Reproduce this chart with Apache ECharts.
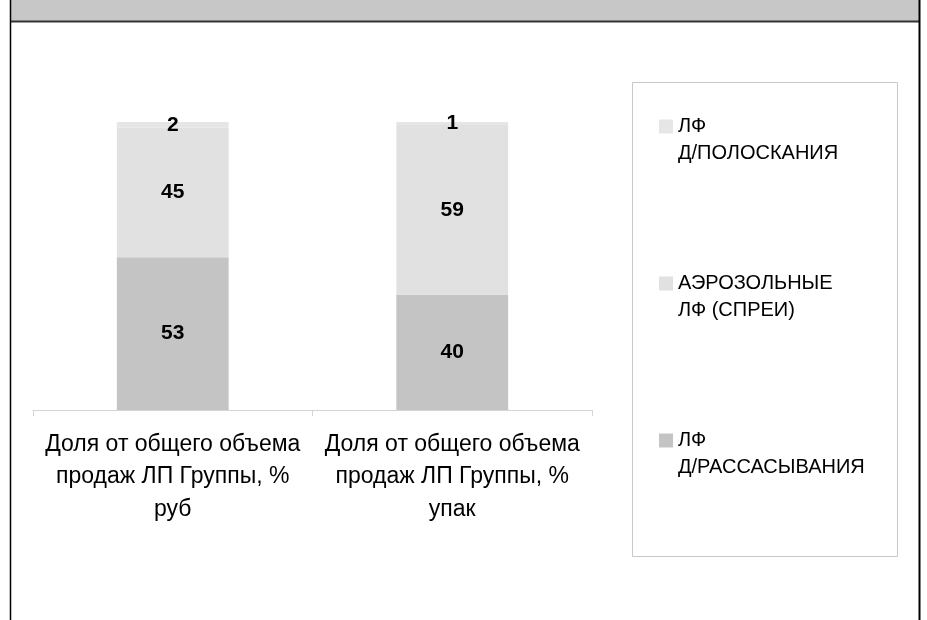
<!DOCTYPE html>
<html>
<head>
<meta charset="utf-8">
<style>
  html, body { margin: 0; padding: 0; background: #fff; }
  #chart { width: 927px; height: 620px; }
</style>
<script src="https://cdn.jsdelivr.net/npm/echarts@6/dist/echarts.min.js"></script>
</head>
<body>
<div id="chart"></div>
<script>
// Categories along the x axis
const categories = [
  'Доля от общего объема\nпродаж ЛП Группы, %\nруб',
  'Доля от общего объема\nпродаж ЛП Группы, %\nупак'
];

// Series (stack order bottom → top)
const seriesNames = ['ЛФ Д/РАССАСЫВАНИЯ', 'АЭРОЗОЛЬНЫЕ ЛФ (СПРЕИ)', 'ЛФ Д/ПОЛОСКАНИЯ'];
const rassasyvaniya = [53, 40];
const sprei = [45, 59];
const poloskaniya = [2, 1];
const seriesColors = ['#c4c4c4', '#e1e1e1', '#e6e6e6'];

// Legend entries, top to bottom, with their displayed line breaks
const legendOrder = ['ЛФ Д/ПОЛОСКАНИЯ', 'АЭРОЗОЛЬНЫЕ ЛФ (СПРЕИ)', 'ЛФ Д/РАССАСЫВАНИЯ'];
const legendText = {
  'ЛФ Д/ПОЛОСКАНИЯ': 'ЛФ\nД/ПОЛОСКАНИЯ',
  'АЭРОЗОЛЬНЫЕ ЛФ (СПРЕИ)': 'АЭРОЗОЛЬНЫЕ\nЛФ (СПРЕИ)',
  'ЛФ Д/РАССАСЫВАНИЯ': 'ЛФ\nД/РАССАСЫВАНИЯ'
};

const seriesData = [rassasyvaniya, sprei, poloskaniya];
const font = '"Liberation Sans", Arial, sans-serif';

const chart = echarts.init(document.getElementById('chart'));
chart.setOption({
  animation: false,
  backgroundColor: '#fff',
  graphic: [
    // header band
    { type: 'rect', shape: { x: 10, y: 0, width: 910, height: 21 }, style: { fill: '#c7c7c7' }, z: -1 },
    { type: 'line', shape: { x1: 10, y1: 21.5, x2: 920, y2: 21.5 }, style: { stroke: '#333', lineWidth: 2 } },
    // frame sides
    { type: 'line', shape: { x1: 10.5, y1: 0, x2: 10.5, y2: 620 }, style: { stroke: '#000', lineWidth: 1.5 } },
    { type: 'line', shape: { x1: 919.5, y1: 0, x2: 919.5, y2: 620 }, style: { stroke: '#000', lineWidth: 2 } },
    // legend frame
    { type: 'rect', shape: { x: 632.5, y: 82.5, width: 265, height: 474 }, style: { fill: 'none', stroke: '#c8c8c8', lineWidth: 1 } }
  ],
  grid: { left: 33, right: 335, top: 122, bottom: 210, containLabel: false },
  legend: {
    orient: 'vertical',
    left: 659,
    top: 86,
    padding: 0,
    itemGap: 76,
    itemWidth: 14,
    itemHeight: 14,
    icon: 'rect',
    data: legendOrder,
    // leading blank line keeps the first text line level with the swatch
    formatter: name => '\n' + legendText[name],
    textStyle: {
      fontFamily: font,
      fontSize: 20,
      color: '#000',
      lineHeight: 27
    }
  },
  xAxis: {
    type: 'category',
    data: categories,
    axisLine: { lineStyle: { color: '#d4d4d4', width: 1 } },
    axisTick: { show: true, length: 6, alignWithLabel: false, lineStyle: { color: '#d4d4d4' } },
    axisLabel: {
      fontFamily: font,
      fontSize: 23,
      color: '#000',
      lineHeight: 32.5,
      margin: 18,
      interval: 0
    }
  },
  yAxis: {
    type: 'value',
    min: 0,
    max: 100,
    show: false
  },
  series: seriesNames.map((name, i) => ({
    name: name,
    type: 'bar',
    stack: 'total',
    barWidth: '40%',
    data: seriesData[i],
    itemStyle: { color: seriesColors[i] },
    label: {
      show: true,
      position: 'inside',
      fontFamily: font,
      fontSize: 21,
      fontWeight: 'bold',
      color: '#000'
    },
    labelLayout: { hideOverlap: false }
  }))
});
</script>
</body>
</html>
